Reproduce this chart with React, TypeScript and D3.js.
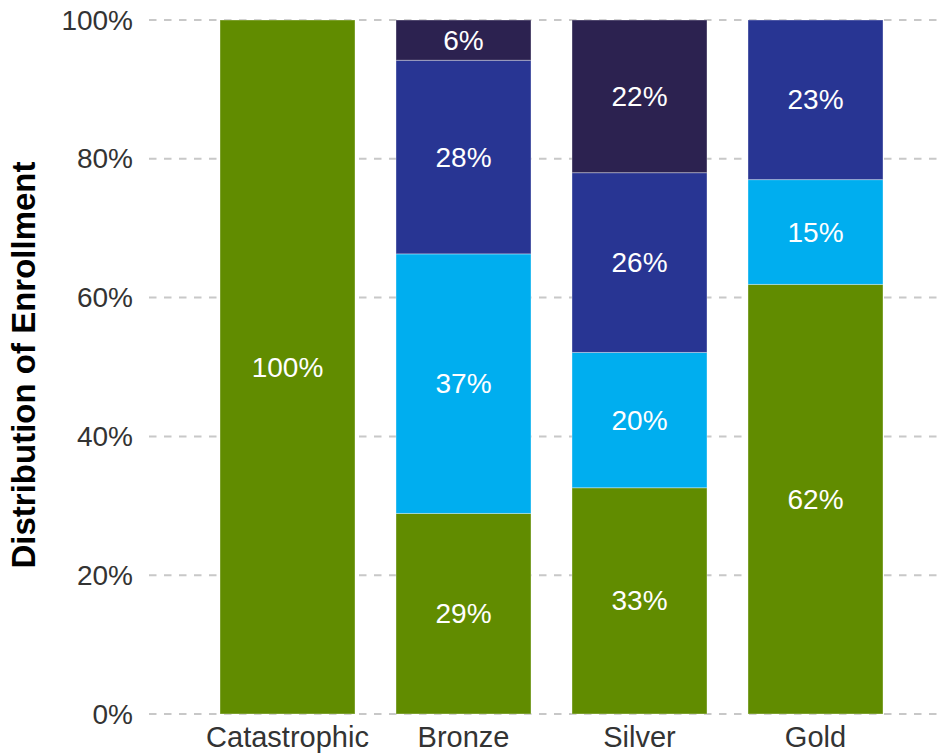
import React from "react";
import * as d3 from "d3";

const categories = ["Catastrophic", "Bronze", "Silver", "Gold"];
const seriesKeys = ["green", "cyan", "blue", "dark"];
const greenVals = [100, 28.9, 32.6, 61.9];
const cyanVals = [0, 37.4, 19.5, 15.1];
const blueVals = [0, 27.9, 25.9, 23.0];
const darkVals = [0, 5.8, 22.0, 0];
const yTicks = [0, 20, 40, 60, 80, 100];
const colors: Record<string, string> = {
  green: "#618C00",
  cyan: "#00AEEF",
  blue: "#283593",
  dark: "#2C2250",
};

const W = 952;
const H = 754;
const FONT = "Liberation Sans, Arial, Helvetica, sans-serif";

export default function App() {
  const rows = categories.map((c, i) => ({
    category: c,
    green: greenVals[i],
    cyan: cyanVals[i],
    blue: blueVals[i],
    dark: darkVals[i],
  }));
  const stack = d3.stack<any>().keys(seriesKeys);
  const layers = stack(rows);

  const x = d3
    .scaleBand<string>()
    .domain(categories)
    .range([199.5, 903.5])
    .paddingInner(0.233)
    .paddingOuter(0.1165);
  const y = d3.scaleLinear().domain([0, 100]).range([714, 20]);

  return (
    <svg
      width={W}
      height={H}
      style={{ position: "absolute", left: 0, top: 0, display: "block" }}
      fontFamily={FONT}
    >
      <rect width={W} height={H} fill="#ffffff" />
      {yTicks.map((t) => (
        <g key={t}>
          <line
            x1={149}
            x2={944}
            y1={y(t)}
            y2={y(t)}
            stroke="#c8c8c8"
            strokeWidth={2}
            strokeDasharray="7.5,7.5"
          />
          <text
            x={133}
            y={y(t)}
            textAnchor="end"
            dominantBaseline="central"
            fontSize={28}
            fill="#333333"
          >
            {t}%
          </text>
        </g>
      ))}
      {layers.map((layer) => (
        <g key={layer.key}>
          {layer.map((d, i) => {
            const v = d[1] - d[0];
            if (v <= 0) return null;
            const x0 = x(categories[i]) as number;
            return (
              <rect
                key={i}
                x={x0}
                y={y(d[1])}
                width={x.bandwidth()}
                height={y(d[0]) - y(d[1])}
                fill={colors[layer.key]}
                stroke="rgba(255,255,255,0.35)"
                strokeWidth={1}
              />
            );
          })}
        </g>
      ))}
      {layers.map((layer) => (
        <g key={"l" + layer.key}>
          {layer.map((d, i) => {
            const v = d[1] - d[0];
            if (v <= 0) return null;
            const x0 = x(categories[i]) as number;
            return (
              <text
                key={i}
                x={x0 + x.bandwidth() / 2}
                y={y((d[0] + d[1]) / 2)}
                textAnchor="middle"
                dominantBaseline="central"
                fontSize={28}
                fill="#ffffff"
              >
                {Math.round(v)}%
              </text>
            );
          })}
        </g>
      ))}
      {categories.map((c) => (
        <text
          key={c}
          x={(x(c) as number) + x.bandwidth() / 2}
          y={747}
          textAnchor="middle"
          fontSize={29}
          fill="#333333"
        >
          {c}
        </text>
      ))}
      <text
        transform={`translate(35,365) rotate(-90)`}
        textAnchor="middle"
        fontSize={33}
        fontWeight="bold"
        fill="#000000"
      >
        Distribution of Enrollment
      </text>
    </svg>
  );
}
